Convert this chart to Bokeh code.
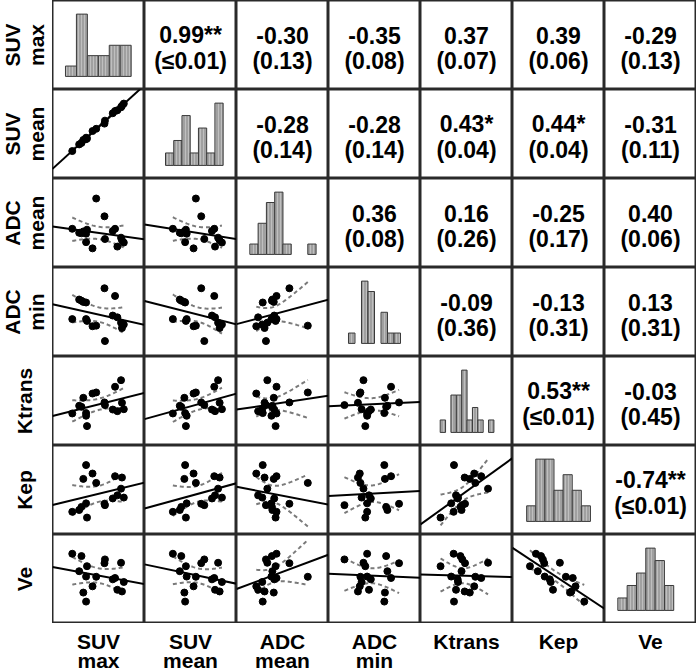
import numpy as np
from bokeh.plotting import figure
from bokeh.layouts import gridplot
from bokeh.models import Range1d
from bokeh.core.properties import value
from bokeh.embed import file_html
from bokeh.resources import INLINE

# ---------------- data (17 patients) ----------------
row_labels = [["SUV", "max"], ["SUV", "mean"], ["ADC", "mean"], ["ADC", "min"],
              ["Ktrans"], ["Kep"], ["Ve"]]

suv_max = [4.3, 5.8, 6.3, 6.7, 7.3, 7.3, 7.5, 8.7, 9.5, 11.3, 11.4, 13.1, 13.6, 14.1, 14.9, 15.1, 15.5]
suv_mean = [3.7, 4.6, 4.8, 5.2, 5.3, 5.5, 5.4, 6.4, 6.7, 7.4, 7.8, 8.8, 9.1, 9.2, 9.6, 9.8, 10.1]
adc_mean = [0.87, 0.78, 0.77, 0.81, 0.57, 0.76, 0.85, 0.43, 1.55, 1.15, 0.64, 0.82, 0.87, 0.47, 0.67, 0.61, 0.56]
adc_min = [0.63, 0.96, 0.94, 0.92, 0.91, 0.63, 0.60, 0.51, 0.52, 1.15, 0.26, 0.69, 1.02, 0.66, 0.57, 0.48, 0.54]
ktrans = [0.180, 0.223, 0.217, 0.268, 0.182, 0.167, 0.109, 0.292, 0.298, 0.242, 0.227, 0.202, 0.330, 0.193, 0.367, 0.240, 0.204]
kep = [0.51, 0.55, 0.62, 1.25, 1.56, 0.70, 0.38, 1.37, 1.16, 0.69, 0.66, 0.81, 1.31, 0.88, 1.03, 1.28, 0.83]
ve = [0.627, 0.470, 0.606, 0.278, 0.197, 0.422, 0.515, 0.334, 0.420, 0.542, 0.576, 0.397, 0.409, 0.303, 0.546, 0.288, 0.373]
variables = [suv_max, suv_mean, adc_mean, adc_min, ktrans, kep, ve]
var_max = [20, 12, 2.0, 1.5, 0.5, 2.0, 0.8]

# histogram counts (diagonal), first bin edge and bin width
hist_counts = [[1, 6, 2, 2, 3, 3],
               [1, 2, 4, 1, 3, 1, 5],
               [1, 3, 5, 6, 1, 0, 0, 1],
               [1, 0, 6, 5, 0, 3, 1, 1],
               [1, 0, 3, 3, 5, 1, 2, 1, 0, 1],
               [1, 4, 4, 2, 3, 2, 1],
               [1, 2, 3, 5, 4, 2]]
hist_start = [2.82, 2.74, 0.29, 0.326, 0.107, 0.308, 0.116]
hist_width = [2.38, 1.074, 0.18, 0.106, 0.0292, 0.198, 0.081]

# Pearson r and p (upper triangle, row by row)
corr_r = [0.99, -0.30, -0.35, 0.37, 0.39, -0.29,
          -0.28, -0.28, 0.43, 0.44, -0.31,
          0.36, 0.16, -0.25, 0.40,
          -0.09, -0.13, 0.13,
          0.53, -0.03,
          -0.74]
corr_p = [0.01, 0.13, 0.08, 0.07, 0.06, 0.13,
          0.14, 0.14, 0.04, 0.04, 0.11,
          0.08, 0.26, 0.17, 0.06,
          0.36, 0.31, 0.31,
          0.01, 0.45,
          0.01]

# ---------------- layout ----------------
W, H = 92, 89          # cell size
LW, BH = 52, 49        # label column width, label row height
FONT = value("Liberation Sans")
T975 = 2.131           # t quantile, 15 dof


def base_fig(w, h, xr, yr, outline=True):
    p = figure(width=w, height=h, x_range=xr, y_range=yr, output_backend="svg",
               toolbar_location=None, x_axis_location=None, y_axis_location=None,
               min_border=0)
    p.grid.visible = False
    p.background_fill_color = "white"
    p.border_fill_color = "white"
    if outline:
        p.outline_line_color = "#2a2a2a"
        p.outline_line_width = 2
    else:
        p.outline_line_color = None
    return p


def hist_cell(k):
    counts = np.array(hist_counts[k])
    left = hist_start[k] + hist_width[k] * np.arange(len(counts))
    mask = counts > 0
    cmax = counts.max()
    span = cmax / 0.70
    p = base_fig(W, H, Range1d(0, var_max[k]), Range1d(-0.147 * span, 0.853 * span))
    p.quad(left=left[mask], right=left[mask] + hist_width[k], bottom=0, top=counts[mask],
           fill_color="#a0a0a0", line_color="#3a3a3a", line_width=1,
           hatch_pattern="vertical_line", hatch_color="#cccccc", hatch_alpha=0.7,
           hatch_scale=3, hatch_weight=1)
    return p


def scatter_cell(i, j):
    x = np.array(variables[j], dtype=float)
    y = np.array(variables[i], dtype=float)
    p = base_fig(W, H, Range1d(0, var_max[j]), Range1d(0, var_max[i]))
    b, a = np.polyfit(x, y, 1)
    n = len(x)
    resid = y - (a + b * x)
    s = np.sqrt(np.sum(resid ** 2) / (n - 2))
    xm = x.mean()
    sxx = np.sum((x - xm) ** 2)
    xg = np.linspace(x.min(), x.max(), 60)
    se = s * np.sqrt(1.0 / n + (xg - xm) ** 2 / sxx)
    for sign in (1, -1):
        p.line(xg, a + b * xg + sign * T975 * se, line_color="#7a7a7a",
               line_width=2, line_dash="4 3")
    xs = np.array([0, var_max[j]])
    p.line(xs, a + b * xs, line_color="black", line_width=2)
    p.scatter(x, y, size=7, fill_color="black", line_color="black")
    return p


def text_cell(r, pv):
    stars = "**" if pv <= 0.01 else ("*" if pv < 0.05 else "")
    line1 = f"{r:.2f}{stars}"
    line2 = "(≤0.01)" if pv <= 0.01 else f"({pv:.2f})"
    p = base_fig(W, H, Range1d(0, 1), Range1d(0, 1))
    p.text(x=[0.5, 0.5], y=[0.61, 0.32], text=[line1, line2], text_align="center",
           text_baseline="middle", text_font=FONT, text_font_style="bold",
           text_font_size="23px", text_color="black")
    return p


def left_label(k):
    p = base_fig(LW, H, Range1d(0, LW), Range1d(0, H), outline=False)
    lines = row_labels[k]
    xs = [12, 36] if len(lines) == 2 else [24]
    p.text(x=xs, y=[H / 2] * len(lines), text=lines, angle=np.pi / 2,
           text_align="center", text_baseline="middle", text_font=FONT,
           text_font_style="bold", text_font_size="21px", text_color="black")
    return p


def bottom_label(k):
    p = base_fig(W, BH, Range1d(0, W), Range1d(0, BH), outline=False)
    lines = row_labels[k]
    ys = [BH - 18, BH - 37] if len(lines) == 2 else [BH - 18]
    p.text(x=[W / 2] * len(lines), y=ys, text=lines, text_align="center",
           text_baseline="middle", text_font=FONT, text_font_style="bold",
           text_font_size="21px", text_color="black")
    return p


upper = {}
ci = 0
for i in range(7):
    for j in range(i + 1, 7):
        upper[(i, j)] = (corr_r[ci], corr_p[ci])
        ci += 1

rows = []
for i in range(7):
    row = [left_label(i)]
    for j in range(7):
        if i == j:
            row.append(hist_cell(i))
        elif j > i:
            row.append(text_cell(*upper[(i, j)]))
        else:
            row.append(scatter_cell(i, j))
    rows.append(row)
bottom = [base_fig(LW, BH, Range1d(0, 1), Range1d(0, 1), outline=False)]
bottom += [bottom_label(j) for j in range(7)]
rows.append(bottom)

grid = gridplot(rows, toolbar_location=None)

with open("out.html", "w") as f:
    f.write(file_html(grid, INLINE))
